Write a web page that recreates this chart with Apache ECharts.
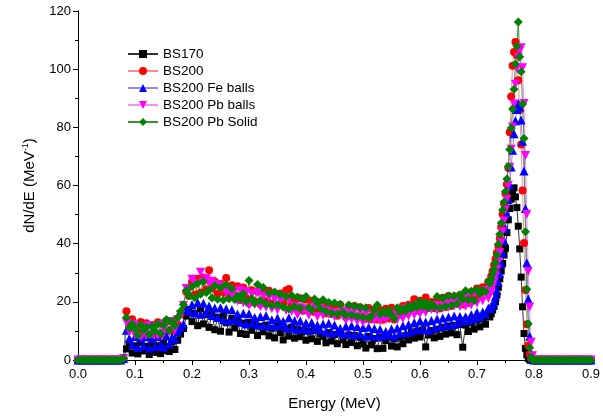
<!DOCTYPE html>
<html>
<head>
<meta charset="utf-8">
<script src="https://cdn.jsdelivr.net/npm/echarts@6/dist/echarts.min.js"></script>
<style>
  html, body { margin: 0; padding: 0; background: #fff; }
  #chart { width: 603px; height: 419px; }
</style>
</head>
<body>
<div id="chart"></div>
<script>
// energy bins (MeV): 0.005 wide, 0.0025 wide across the peak
const energyLow = [];
for (let i = 0; i < 16; i++) energyLow.push(+(i * 0.005).toFixed(4));
const energyMid = [];
for (let i = 0; i <= 128; i++) energyMid.push(+(0.08 + i * 0.005).toFixed(4));
const energyPeak = [];
for (let i = 1; i <= 32; i++) energyPeak.push(+(0.72 + i * 0.0025).toFixed(4));
const energyHigh = [];
for (let i = 1; i <= 20; i++) energyHigh.push(+(0.8 + i * 0.005).toFixed(4));

// empty bins below threshold and above end point (same for all runs)
const tailLow = [0, 0, 0, 0, 0, 0, 0, 0, 0, 0, 0, 0, 0, 0, 0, 0];
const tailHigh = [0, 0, 0, 0, 0, 0, 0, 0, 0, 0, 0, 0, 0, 0, 0, 0, 0, 0, 0, 0];

// BS170
const bs170Mid = [
  0.5, 3.8, 5.6, 2.4, 4.9, 2.1, 6.0, 3.1, 4.7, 1.9,
  5.4, 2.6, 4.9, 2.2, 5.8, 3.3, 2.9, 6.2, 3.6, 6.8,
  8.9, 10.8, 15.1, 17.4, 13.2, 16.0, 11.8, 17.6, 12.4, 15.7,
  11.2, 16.1, 10.4, 14.6, 9.9, 15.2, 12.8, 9.6, 14.3, 11.0,
  13.4, 9.1, 12.7, 8.8, 12.9, 10.2, 13.0, 8.4, 11.6, 9.7,
  12.0, 8.3, 10.9, 7.6, 11.8, 9.4, 6.9, 10.7, 8.2, 11.3,
  7.5, 10.6, 8.0, 10.1, 6.8, 9.9, 7.3, 10.2, 6.4, 9.0,
  8.1, 5.9, 9.4, 6.5, 8.8, 5.6, 9.2, 6.9, 5.3, 8.6,
  6.0, 8.4, 4.9, 7.8, 5.5, 4.1, 8.1, 5.2, 7.4, 3.9,
  7.7, 4.0, 6.6, 8.0, 4.8, 7.3, 4.5, 7.9, 5.6, 8.3,
  6.9, 9.4, 7.5, 10.0, 7.9, 10.4, 4.5, 8.6, 10.1, 7.6,
  10.6, 8.1, 11.3, 8.9, 11.7, 9.3, 11.9, 8.7, 12.2, 4.4,
  12.0, 9.8, 12.9, 10.6, 13.8, 11.4, 14.2, 12.3, 15.0
];
const bs170Peak = [
  14.8, 15.9, 17.2, 18.4, 20.1, 22.3, 25.0, 27.9, 30.6, 33.2,
  36.1, 38.4, 43.8, 48.2, 52.1, 55.3, 57.4, 59.2, 56.1, 52.4,
  46.0, 38.2, 28.5, 18.3, 9.1, 4.0, 1.8, 0.6, 0, 0, 0, 0
];

// BS200
const bs200Mid = [
  0.5, 16.8, 12.5, 14.0, 12.2, 9.4, 13.1, 8.9, 12.6, 8.6,
  12.0, 9.1, 13.0, 8.7, 12.6, 9.8, 13.4, 10.1, 13.7, 12.2,
  15.8, 17.1, 23.5, 22.0, 26.8, 22.4, 27.9, 23.1, 28.4, 24.2,
  30.9, 24.6, 26.9, 22.8, 26.1, 23.4, 28.2, 22.2, 25.7, 21.6,
  25.4, 20.6, 24.9, 21.3, 19.5, 24.0, 20.1, 23.6, 19.2, 23.9,
  20.2, 23.8, 19.4, 22.7, 18.6, 22.9, 19.5, 23.9, 24.4, 18.7,
  20.1, 17.6, 21.2, 16.9, 20.8, 17.3, 20.4, 16.5, 19.9, 17.8,
  18.9, 16.1, 19.2, 15.8, 18.7, 15.2, 19.0, 16.0, 14.8, 18.5,
  15.3, 18.6, 14.7, 18.1, 15.0, 14.2, 17.9, 14.0, 17.3, 13.9,
  17.2, 13.8, 17.6, 14.3, 18.0, 13.9, 17.2, 15.6, 18.6, 16.2,
  19.0, 17.2, 20.9, 16.9, 20.4, 17.6, 21.5, 18.0, 19.9, 17.8,
  20.8, 17.7, 21.4, 18.2, 22.0, 18.6, 21.6, 19.4, 22.3, 19.1,
  22.9, 19.6, 23.4, 21.9, 24.6, 22.2, 25.0, 23.6, 26.9
];
const bs200Peak = [
  27.0, 28.8, 30.5, 32.7, 34.6, 36.9, 39.2, 41.8, 45.7, 50.1,
  53.8, 57.2, 60.4, 66.1, 78.3, 90.6, 101.2, 105.9, 109.3, 104.8,
  96.2, 86.0, 74.1, 58.3, 40.2, 24.1, 12.3, 5.0, 2.0, 0.5, 0, 0
];

// BS200 Fe balls
const feMid = [
  0.5, 10.2, 7.4, 5.3, 8.1, 4.3, 7.6, 4.9, 8.0, 4.1,
  7.4, 4.6, 8.0, 5.1, 4.4, 8.3, 5.5, 7.9, 7.1, 9.6,
  11.2, 12.4, 17.3, 16.8, 19.1, 16.2, 19.8, 15.7, 19.5, 16.4,
  18.6, 15.3, 17.9, 14.6, 18.0, 13.8, 17.6, 13.5, 17.3, 14.1,
  15.8, 13.0, 16.1, 12.4, 15.9, 12.7, 14.6, 12.1, 15.0, 11.8,
  15.2, 11.9, 13.8, 11.6, 14.4, 12.0, 13.3, 11.1, 14.5, 10.9,
  13.6, 10.5, 13.4, 10.8, 12.7, 10.2, 12.9, 10.9, 12.0, 10.3,
  12.4, 9.6, 12.6, 9.3, 12.0, 9.8, 10.9, 8.9, 11.6, 9.0,
  11.8, 8.6, 11.5, 8.9, 11.2, 8.2, 11.3, 8.4, 10.8, 8.0,
  10.6, 8.3, 9.8, 8.7, 10.7, 8.1, 10.9, 9.2, 11.8, 9.4,
  12.2, 9.9, 12.9, 10.4, 13.4, 10.6, 13.1, 10.2, 13.6, 11.0,
  14.1, 11.5, 14.4, 11.9, 14.8, 12.0, 15.1, 12.6, 15.0, 13.4,
  14.9, 13.7, 15.6, 14.2, 16.4, 14.9, 16.5, 15.8, 17.9
];
const fePeak = [
  17.6, 18.3, 19.1, 20.2, 21.8, 23.9, 26.8, 29.7, 33.1, 36.8,
  41.0, 45.2, 50.3, 55.1, 60.2, 66.4, 72.1, 77.8, 82.3, 86.1,
  88.2, 87.0, 82.5, 75.2, 65.0, 52.1, 33.4, 21.0, 8.2, 2.1, 0.5, 0
];

// BS200 Pb balls
const pbBallsMid = [
  0.5, 12.9, 9.6, 12.3, 8.5, 11.7, 7.9, 11.4, 8.4, 11.9,
  8.7, 11.6, 8.3, 12.1, 9.2, 12.6, 9.6, 13.1, 10.5, 13.8,
  15.6, 18.7, 24.6, 24.2, 27.8, 26.3, 26.4, 30.2, 26.8, 27.9,
  26.2, 27.1, 25.3, 26.0, 24.3, 25.2, 23.2, 24.4, 22.5, 23.6,
  20.3, 24.1, 19.7, 23.4, 18.8, 22.6, 19.1, 23.2, 18.3, 21.9,
  18.1, 21.6, 17.6, 21.0, 17.2, 20.6, 21.7, 17.0, 20.8, 16.7,
  18.5, 15.6, 18.0, 16.9, 17.6, 15.4, 17.1, 18.4, 14.9, 17.9,
  15.3, 17.0, 15.8, 16.4, 14.9, 16.0, 15.4, 16.6, 13.7, 17.0,
  13.9, 16.8, 13.3, 16.5, 12.9, 16.1, 13.5, 14.8, 13.7, 15.1,
  13.4, 15.0, 14.0, 15.3, 14.5, 15.6, 13.8, 17.2, 14.3, 17.6,
  15.1, 18.2, 15.6, 18.9, 15.9, 19.2, 16.3, 18.0, 17.4, 18.7,
  17.0, 18.4, 17.8, 19.1, 18.2, 19.6, 18.6, 20.1, 18.4, 21.4,
  18.5, 21.9, 18.9, 22.5, 19.6, 23.1, 20.4, 23.8, 21.2
];
const pbBallsPeak = [
  22.6, 23.4, 25.1, 26.8, 28.9, 31.2, 33.8, 36.9, 40.3, 44.1,
  47.8, 51.6, 55.2, 60.1, 66.3, 72.5, 80.1, 88.0, 94.8, 100.2,
  104.1, 106.3, 107.4, 100.5, 88.2, 70.3, 50.1, 30.4, 18.2, 6.1, 1.5, 0
];

// BS200 Pb Solid
const pbSolidMid = [
  0.5, 14.6, 11.0, 12.4, 10.7, 8.5, 12.0, 10.3, 11.3, 8.8,
  11.6, 10.1, 12.4, 9.1, 12.0, 13.9, 10.2, 13.1, 11.9, 14.6,
  16.8, 19.0, 23.8, 22.1, 25.3, 21.4, 26.4, 22.6, 26.9, 23.2,
  24.1, 21.3, 25.6, 20.9, 24.8, 20.6, 25.9, 21.1, 24.6, 20.8,
  22.1, 21.0, 22.8, 20.2, 27.3, 21.1, 19.5, 26.0, 20.4, 24.9,
  19.3, 23.1, 18.7, 23.4, 19.0, 22.6, 18.2, 21.9, 17.5, 22.2,
  18.4, 21.7, 17.8, 21.1, 21.8, 18.0, 17.3, 21.0, 19.6, 17.6,
  20.7, 16.8, 19.8, 16.2, 19.6, 15.8, 19.2, 16.4, 15.5, 18.9,
  15.6, 18.6, 15.0, 18.1, 14.7, 18.0, 14.4, 15.1, 17.4, 18.9,
  15.7, 16.8, 16.1, 17.2, 15.5, 14.3, 18.0, 16.5, 17.6, 16.9,
  18.5, 17.7, 19.0, 18.1, 20.3, 18.6, 19.7, 17.9, 19.4, 18.3,
  21.8, 18.0, 21.3, 18.5, 22.0, 18.7, 22.1, 19.3, 22.4, 21.0,
  23.8, 20.7, 23.6, 20.5, 24.2, 22.9, 24.0, 23.5, 26.9
];
const pbSolidPeak = [
  26.3, 27.8, 29.6, 31.2, 33.4, 36.1, 39.8, 43.2, 47.1, 51.6,
  54.3, 57.9, 62.2, 66.5, 72.4, 79.8, 86.3, 93.1, 101.8, 107.9,
  116.2, 104.3, 99.1, 88.0, 76.2, 44.1, 24.3, 12.5, 4.2, 1.0, 0, 0
];

const energy = energyLow.concat(energyMid, energyPeak, energyHigh);

function spectrum(mid, peak) {
  const values = tailLow.concat(mid, peak, tailHigh);
  return energy.map((e, i) => [e, values[i]]);
}

const FONT = "Liberation Sans";

function mkSeries(name, mid, peak, symbol, size, color, lineColor, rotate) {
  return {
    name: name,
    type: "line",
    data: spectrum(mid, peak),
    symbol: symbol,
    symbolSize: size,
    symbolRotate: rotate || 0,
    showAllSymbol: true,
    itemStyle: { color: color },
    lineStyle: { color: lineColor, width: 1 },
    emphasis: { disabled: true },
  };
}

const chart = echarts.init(document.getElementById("chart"), null, { renderer: "canvas" });
chart.setOption({
  animation: false,
  grid: { left: 78, right: 9, top: 11, bottom: 59 },
  legend: {
    orient: "vertical",
    left: 122,
    top: 42,
    itemWidth: 30,
    itemHeight: 10,
    itemGap: 3,
    textStyle: { fontFamily: FONT, fontSize: 13.5, color: "#000" },
    data: ["BS170", "BS200", "BS200 Fe balls", "BS200 Pb balls", "BS200 Pb Solid"],
  },
  xAxis: [
    {
      type: "value",
      min: 0,
      max: 0.9,
      interval: 0.1,
      name: "Energy (MeV)",
      nameLocation: "middle",
      nameGap: 36,
      nameTextStyle: { fontFamily: FONT, fontSize: 15, color: "#000" },
      axisLine: { lineStyle: { color: "#000", width: 1 } },
      axisTick: { inside: false, length: 5, lineStyle: { color: "#000" } },
      minorTick: { show: true, splitNumber: 2, length: 3, lineStyle: { color: "#000" } },
      axisLabel: {
        fontFamily: FONT, fontSize: 13, color: "#000", margin: 8,
        formatter: (v) => v.toFixed(1),
      },
      splitLine: { show: false },
    },
    {
      type: "value", position: "top", min: 0, max: 0.9,
      axisLine: { show: true, lineStyle: { color: "#000", width: 1 } },
      axisTick: { show: false }, axisLabel: { show: false }, splitLine: { show: false },
    },
  ],
  yAxis: [
    {
      type: "value",
      min: 0,
      max: 120,
      interval: 20,
      name: "dN/dE (MeV{sup|-1})",
      nameLocation: "middle",
      nameGap: 40,
      nameTextStyle: {
        fontFamily: FONT, fontSize: 15, color: "#000",
        rich: { sup: { fontFamily: FONT, fontSize: 9, color: "#000", verticalAlign: "top", padding: [0, 0, 8, 0] } },
      },
      axisLine: { show: true, lineStyle: { color: "#000", width: 1 } },
      axisTick: { inside: false, length: 5, lineStyle: { color: "#000" } },
      minorTick: { show: true, splitNumber: 2, length: 3, lineStyle: { color: "#000" } },
      axisLabel: { fontFamily: FONT, fontSize: 13, color: "#000", margin: 7 },
      splitLine: { show: false },
    },
    {
      type: "value", position: "right", min: 0, max: 120,
      axisLine: { show: true, lineStyle: { color: "#000", width: 1 } },
      axisTick: { show: false }, axisLabel: { show: false }, splitLine: { show: false },
    },
  ],
  series: [
    mkSeries("BS170", bs170Mid, bs170Peak, "rect", 7, "#000000", "#333333"),
    mkSeries("BS200", bs200Mid, bs200Peak, "circle", 8, "#ff0000", "#ff8c8c"),
    mkSeries("BS200 Fe balls", feMid, fePeak, "triangle", 9, "#0000ff", "#8c8cff"),
    mkSeries("BS200 Pb balls", pbBallsMid, pbBallsPeak, "triangle", 9, "#ff00ff", "#ff8cff", 180),
    mkSeries("BS200 Pb Solid", pbSolidMid, pbSolidPeak, "diamond", 9, "#008000", "#339933"),
  ],
});
</script>
</body>
</html>
